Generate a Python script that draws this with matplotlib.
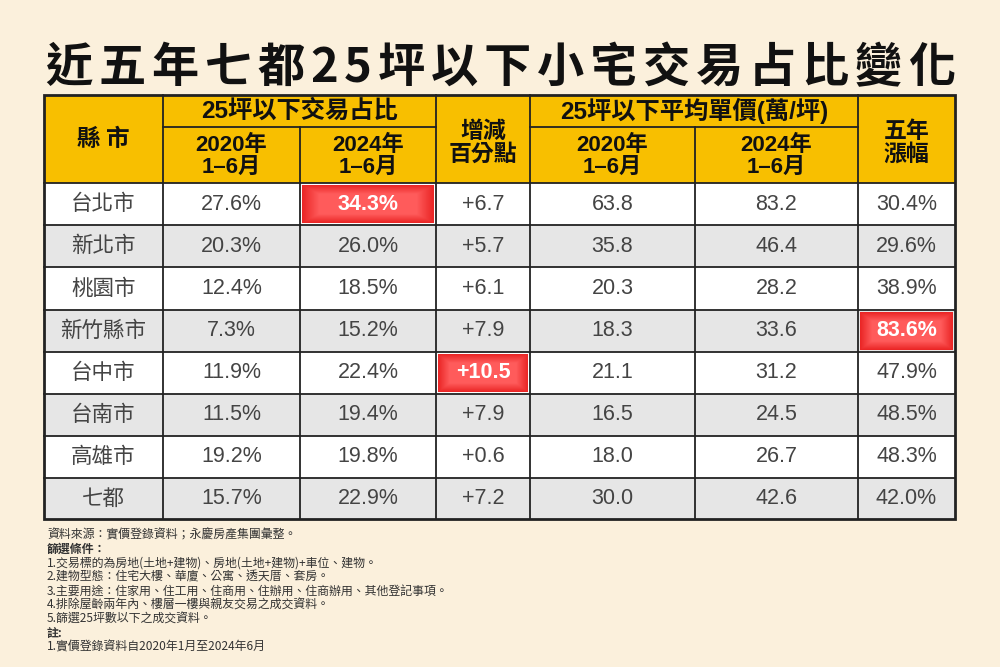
import numpy as np
import matplotlib.pyplot as plt
from matplotlib.patches import Rectangle

plt.rcParams['font.family'] = ['Liberation Sans', 'Noto Sans CJK TC', 'DejaVu Sans']
CJK = ['Noto Sans CJK TC', 'DejaVu Sans']

title = "近五年七都25坪以下小宅交易占比變化"
cities = ["台北市", "新北市", "桃園市", "新竹縣市", "台中市", "台南市", "高雄市", "七都"]
share_2020 = [27.6, 20.3, 12.4, 7.3, 11.9, 11.5, 19.2, 15.7]
share_2024 = [34.3, 26.0, 18.5, 15.2, 22.4, 19.4, 19.8, 22.9]
share_diff = [6.7, 5.7, 6.1, 7.9, 10.5, 7.9, 0.6, 7.2]
price_2020 = [63.8, 35.8, 20.3, 18.3, 21.1, 16.5, 18.0, 30.0]
price_2024 = [83.2, 46.4, 28.2, 33.6, 31.2, 24.5, 26.7, 42.6]
growth = [30.4, 29.6, 38.9, 83.6, 47.9, 48.5, 48.3, 42.0]
# highlighted cells: (row, column)
highlights = [(0, 2), (4, 3), (3, 6)]

notes = [
    ("資料來源：實價登錄資料；永慶房產集團彙整。", "normal"),
    ("篩選條件：", "bold"),
    ("1.交易標的為房地(土地+建物)、房地(土地+建物)+車位、建物。", "normal"),
    ("2.建物型態：住宅大樓、華廈、公寓、透天厝、套房。", "normal"),
    ("3.主要用途：住家用、住工用、住商用、住辦用、住商辦用、其他登記事項。", "normal"),
    ("4.排除屋齡兩年內、樓層一樓與親友交易之成交資料。", "normal"),
    ("5.篩選25坪數以下之成交資料。", "normal"),
    ("註:", "bold"),
    ("1.實價登錄資料自2020年1月至2024年6月", "normal"),
]

BG = "#FBF0DC"
YELLOW = "#F8BF00"
GRAY = "#E6E6E6"
TXT = "#444444"

col_x = [44, 163, 300, 436, 530, 695, 858, 955]
head_top, head_mid, head_bot = 95, 127, 183
row_y = [183, 225, 267, 310, 352, 394, 436, 478, 519]

fig = plt.figure(figsize=(10, 6.67), dpi=100, facecolor=BG)
ax = fig.add_axes([0, 0, 1, 1])
ax.set_xlim(0, 1000)
ax.set_ylim(667, 0)
ax.axis("off")

# title: spread characters over the table width
renderer = fig.canvas.get_renderer()
tk = dict(va="center", ha="left", fontsize=34, fontweight="heavy", color="#111111", family=CJK)
chars = [ax.text(0, 68, ch, **tk) for ch in title]
widths = [t.get_window_extent(renderer).width for t in chars]
gap = (955 - 45 - sum(widths)) / (len(title) - 1)
x = 45
for t, w in zip(chars, widths):
    t.set_x(x)
    x += w + gap

# header background
ax.add_patch(Rectangle((col_x[0], head_top), col_x[-1] - col_x[0], head_bot - head_top,
                       facecolor=YELLOW, edgecolor="none"))

# rows
for i in range(len(cities)):
    fc = "white" if i % 2 == 0 else GRAY
    ax.add_patch(Rectangle((col_x[0], row_y[i]), col_x[-1] - col_x[0], row_y[i + 1] - row_y[i],
                           facecolor=fc, edgecolor="none"))


def glow_cell(x0, x1, y0, y1):
    ny, nx = 40, 80
    yy, xx = np.mgrid[0:ny, 0:nx]
    dx = np.minimum(xx, nx - 1 - xx) / (nx / 2)
    dy = np.minimum(yy, ny - 1 - yy) / (ny / 2)
    d = np.clip(np.minimum(dx * 4, dy * 2.2), 0, 1)
    inner = np.array([1.0, 0.36, 0.36])
    edge = np.array([0.92, 0.15, 0.15])
    img = edge + (inner - edge) * d[..., None]
    ax.imshow(img, extent=(x0, x1, y1, y0), aspect="auto", zorder=2, interpolation="bilinear")


for r, c in highlights:
    glow_cell(col_x[c] + 2, col_x[c + 1] - 2, row_y[r] + 2, row_y[r + 1] - 2)

# grid lines
lk = dict(color="#222222", lw=1.3, zorder=3)
for y in row_y[1:-1]:
    ax.plot([col_x[0], col_x[-1]], [y, y], **lk)
ax.plot([col_x[0], col_x[-1]], [head_bot, head_bot], **lk)
ax.plot([col_x[1], col_x[3]], [head_mid, head_mid], **lk)
ax.plot([col_x[4], col_x[6]], [head_mid, head_mid], **lk)
for i, xv in enumerate(col_x[1:-1], start=1):
    top = head_mid if i in (2, 5) else head_top
    ax.plot([xv, xv], [top, row_y[-1]], **lk)
ax.add_patch(Rectangle((col_x[0], head_top), col_x[-1] - col_x[0], row_y[-1] - head_top,
                       facecolor="none", edgecolor="#222222", lw=2, zorder=4))

# header text
hk = dict(ha="center", va="center", fontweight="heavy", color="#111111", zorder=5)
ax.text((col_x[0] + col_x[1]) / 2, (head_top + head_bot) / 2, "縣 市", fontsize=17, family=CJK, **hk)
ax.text((col_x[1] + col_x[3]) / 2, (head_top + head_mid) / 2, "25坪以下交易占比", fontsize=17.5, **hk)
ax.text((col_x[3] + col_x[4]) / 2, (head_top + head_bot) / 2 + 4, "增減\n百分點", fontsize=16.5,
        linespacing=1.0, family=CJK, **hk)
ax.text((col_x[4] + col_x[6]) / 2, (head_top + head_mid) / 2, "25坪以下平均單價(萬/坪)", fontsize=17.5, **hk)
ax.text((col_x[6] + col_x[7]) / 2, (head_top + head_bot) / 2 + 4, "五年\n漲幅", fontsize=16.5,
        linespacing=1.0, family=CJK, **hk)
sub = ["2020年\n1–6月", "2024年\n1–6月"]
for c, s in zip([1, 2, 4, 5], sub * 2):
    ax.text((col_x[c] + col_x[c + 1]) / 2, (head_mid + head_bot) / 2 + 1, s, fontsize=16,
            linespacing=1.05, **hk)

# body text
cols = [
    cities,
    [f"{v:.1f}%" for v in share_2020],
    [f"{v:.1f}%" for v in share_2024],
    [f"+{v:.1f}" for v in share_diff],
    [f"{v:.1f}" for v in price_2020],
    [f"{v:.1f}" for v in price_2024],
    [f"{v:.1f}%" for v in growth],
]
for c, vals in enumerate(cols):
    for r, s in enumerate(vals):
        hl = (r, c) in highlights
        ax.text((col_x[c] + col_x[c + 1]) / 2, (row_y[r] + row_y[r + 1]) / 2, s,
                ha="center", va="center", fontsize=15.5 if c > 0 else 15.5,
                family=CJK if c == 0 else None,
                color="white" if hl else TXT, fontweight="bold" if hl else "normal", zorder=5)

# notes
for i, (s, w) in enumerate(notes):
    ax.text(47, 535 + i * 14, s, ha="left", va="center", fontsize=8.6, color="#333333",
            fontweight=w, family=CJK)

fig.savefig("out.png", dpi=100, facecolor=BG)
